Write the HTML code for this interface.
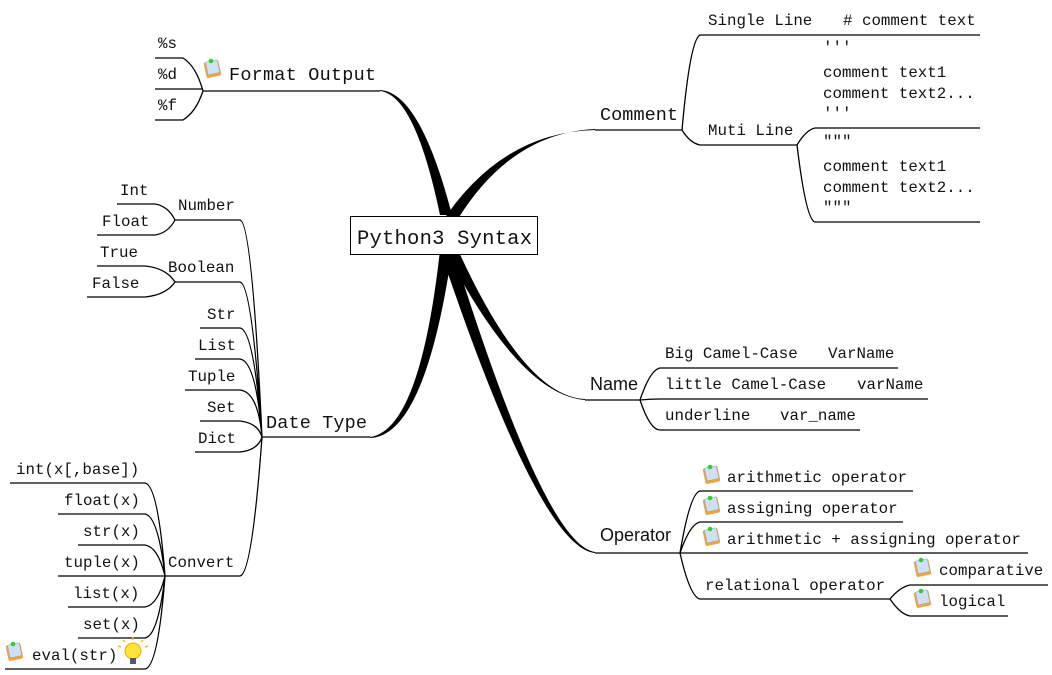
<!DOCTYPE html>
<html><head><meta charset="utf-8"><style>
html,body{margin:0;padding:0;background:#fff;width:1052px;height:675px;overflow:hidden}
text{font-family:"Liberation Mono",monospace;font-size:15.8px;fill:#111}
.s{font-family:"Liberation Sans",sans-serif;font-size:18px}
.b{font-size:18.5px}
</style></head><body>
<svg width="1052" height="675" viewBox="0 0 1052 675" xmlns="http://www.w3.org/2000/svg">
<defs>
<g id="ic"><rect x="1" y="3" width="15" height="16" rx="2" fill="#f3a23c" transform="rotate(-12 8 11)"/><rect x="3" y="3" width="12" height="13" rx="1" fill="#cfe0f5" stroke="#8aa" stroke-width=".5" transform="rotate(-12 8 11)"/><circle cx="7" cy="3" r="2.3" fill="#3c3"/></g>
</defs>
<g fill="#000">
<!-- thick branches -->
<path d="M380,91 Q415,95 440,215 L452,215 Q420,92 380,90Z"/>
<path d="M595,130 Q500,132 440,225 L456,222 Q510,133 595,129Z"/>
<path d="M370,437 Q420,430 440,250 L452,252 Q425,436 370,438Z"/>
<path d="M585,400 Q520,395 445,250 L458,250 Q525,397 585,399Z"/>
<path d="M595,553 Q540,548 440,250 L453,250 Q545,545 595,552Z"/>
</g>
<rect x="350.5" y="216.5" width="187" height="38" fill="#fff" stroke="#000"/>
<text x="357" y="244" style="font-size:20.5px" textLength="175">Python3 Syntax</text>

<g fill="none" stroke="#000" stroke-width="1.3">
<!-- Format output -->
<path d="M203,91 H380"/>
<path d="M155,58 H183 Q196,66 203,91 M155,89 H203 M155,120 H183 Q196,112 203,91"/>
<!-- Comment -->
<path d="M595,130 H682"/>
<path d="M682,130 Q690,40 700,35 H980 M682,130 Q690,143 700,145 H797"/>
<path d="M797,145 Q806,130 815,128 H980 M797,145 Q806,220 815,222 H980"/>
<!-- Name -->
<path d="M585,400 H640"/>
<path d="M640,400 Q650,370 660,368 H898 M640,400 Q650,399 660,399 H928 M640,400 Q650,430 660,430 H860"/>
<!-- Operator -->
<path d="M595,553 H680"/>
<path d="M680,553 Q690,493 700,491 H913 M680,553 Q690,524 700,522 H903 M680,553 H1028 M680,553 Q690,597 700,599 H890"/>
<path d="M890,599 Q900,587 910,585 H1048 M890,599 Q900,614 910,616 H1008"/>
<!-- Date type -->
<path d="M262,437 H370"/>
<path d="M262,437 Q252,222 240,220 H175 M262,437 Q252,284 240,282 H175 M262,437 Q254,330 240,328 H200 M262,437 Q256,361 240,359 H195 M262,437 Q258,392 240,390 H185 M262,437 Q258,423 240,421 H200 M262,437 Q258,450 240,452 H195 M262,437 Q252,574 240,576 H165"/>
<path d="M175,220 Q168,206 155,204 H117 M175,220 Q168,233 155,235 H97"/>
<path d="M175,282 Q166,268 145,266 H97 M175,282 Q166,295 145,297 H87"/>
<path d="M165,576 Q158,485 145,483 H10 M165,576 Q158,516 145,514 H58 M165,576 Q158,547 145,545 H78 M165,576 H58 M165,576 Q158,605 145,607 H68 M165,576 Q158,636 145,638 H78 M165,576 Q158,667 145,669 H5"/>
</g>

<text x="158" y="48">%s</text><text x="158" y="79">%d</text><text x="158" y="110">%f</text>
<use href="#ic" x="204" y="58"/>
<text x="229" y="80" class="b" textLength="147">Format Output</text>

<text x="600" y="120" class="b" textLength="78">Comment</text>
<text x="708" y="25">Single Line</text><text x="843" y="25">#&#160;comment text</text>
<text x="708" y="135">Muti Line</text>
<text x="823" y="52">'''</text><text x="823" y="77">comment text1</text><text x="823" y="98">comment text2...</text><text x="823" y="118">'''</text>
<text x="823" y="146">"""</text><text x="823" y="171">comment text1</text><text x="823" y="192">comment text2...</text><text x="823" y="212">"""</text>

<text x="590" y="390" class="s">Name</text>
<text x="665" y="358">Big Camel-Case</text><text x="828" y="358">VarName</text>
<text x="665" y="389">little Camel-Case</text><text x="857" y="389">varName</text>
<text x="665" y="420">underline</text><text x="780" y="420">var_name</text>

<text x="600" y="541" class="s">Operator</text>
<use href="#ic" x="703" y="464"/><text x="727" y="482">arithmetic operator</text>
<use href="#ic" x="703" y="495"/><text x="727" y="513">assigning operator</text>
<use href="#ic" x="703" y="526"/><text x="727" y="544">arithmetic + assigning operator</text>
<text x="705" y="590">relational operator</text>
<use href="#ic" x="914" y="557"/><text x="939" y="575">comparative</text>
<use href="#ic" x="914" y="588"/><text x="939" y="606">logical</text>

<text x="266" y="428" class="b" textLength="101">Date Type</text>
<text x="178" y="210">Number</text><text x="120" y="195">Int</text><text x="102" y="226">Float</text>
<text x="168" y="272">Boolean</text><text x="100" y="257">True</text><text x="92" y="288">False</text>
<text x="207" y="319">Str</text><text x="198" y="350">List</text><text x="188" y="381">Tuple</text><text x="207" y="412">Set</text><text x="198" y="443">Dict</text>
<text x="168" y="567">Convert</text>
<text x="16" y="474">int(x[,base])</text><text x="64" y="505">float(x)</text><text x="83" y="536">str(x)</text><text x="64" y="567">tuple(x)</text><text x="73" y="598">list(x)</text><text x="83" y="629">set(x)</text>
<use href="#ic" x="6" y="641"/><text x="32" y="660">eval(str)</text>
<g transform="translate(133,651)"><circle r="8" fill="#ffe23a" stroke="#e0b000"/><rect x="-3" y="7" width="6" height="6" fill="#557"/><path d="M-12,-4 l-3,-1 M12,-4 l3,-1 M0,-11 v-3 M-8,-9 l-2,-2 M8,-9 l2,-2" stroke="#f5c000" stroke-width="1.5"/></g>
</svg>
</body></html>
